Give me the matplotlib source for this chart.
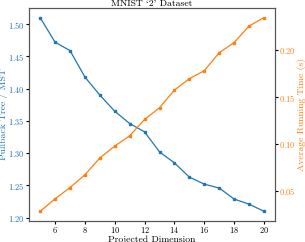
import matplotlib
matplotlib.use("Agg")
import matplotlib.pyplot as plt

plt.rcParams['font.family'] = ['cmr10', 'DejaVu Serif']
plt.rcParams['axes.formatter.use_mathtext'] = True
plt.rcParams['mathtext.fontset'] = 'cm'

dims = [5, 6, 7, 8, 9, 10, 11, 12, 13, 14, 15, 16, 17, 18, 19, 20]
ratio = [1.510, 1.472, 1.459, 1.418, 1.390, 1.365, 1.346, 1.333,
         1.302, 1.285, 1.263, 1.252, 1.246, 1.229, 1.221, 1.210]
runtime = [0.0278, 0.0411, 0.0532, 0.0668, 0.0849, 0.0975, 0.1086, 0.1261,
           0.1386, 0.1575, 0.1697, 0.1782, 0.1975, 0.2083, 0.2260, 0.2350]

blue = '#1f77b4'
orange = '#ff7f0e'

fig = plt.figure(figsize=(3.05, 2.42), dpi=100)
ax = fig.add_axes([0.095, 0.087, 0.807, 0.88])
ax.plot(dims, ratio, color=blue, marker='s', markersize=2, linewidth=0.9)
ax.set_xlabel('Projected Dimension', fontsize=7, labelpad=0)
ax.set_ylabel('Pullback Tree / MST', fontsize=7, color=blue, labelpad=0)
ax.tick_params(axis='y', labelcolor=blue, labelsize=6, length=2, pad=1)
ax.tick_params(axis='x', labelsize=6, length=2, pad=1)
ax.set_xticks([6, 8, 10, 12, 14, 16, 18, 20])
ax.set_yticks([1.20, 1.25, 1.30, 1.35, 1.40, 1.45, 1.50])
ax.set_title("MNIST `2' Dataset", fontsize=7, pad=1.5)

ax2 = ax.twinx()
ax2.plot(dims, runtime, color=orange, marker='s', markersize=2, linewidth=0.9)
ax2.set_ylabel('Average Running Time (s)', fontsize=7, color=orange, labelpad=1)
ax2.tick_params(axis='y', labelcolor=orange, labelsize=6, length=2, pad=1)
ax2.set_yticks([0.05, 0.10, 0.15, 0.20])

for a in (ax, ax2):
    for s in a.spines.values():
        s.set_color('#555555')

fig.savefig('out.png', dpi=100)
